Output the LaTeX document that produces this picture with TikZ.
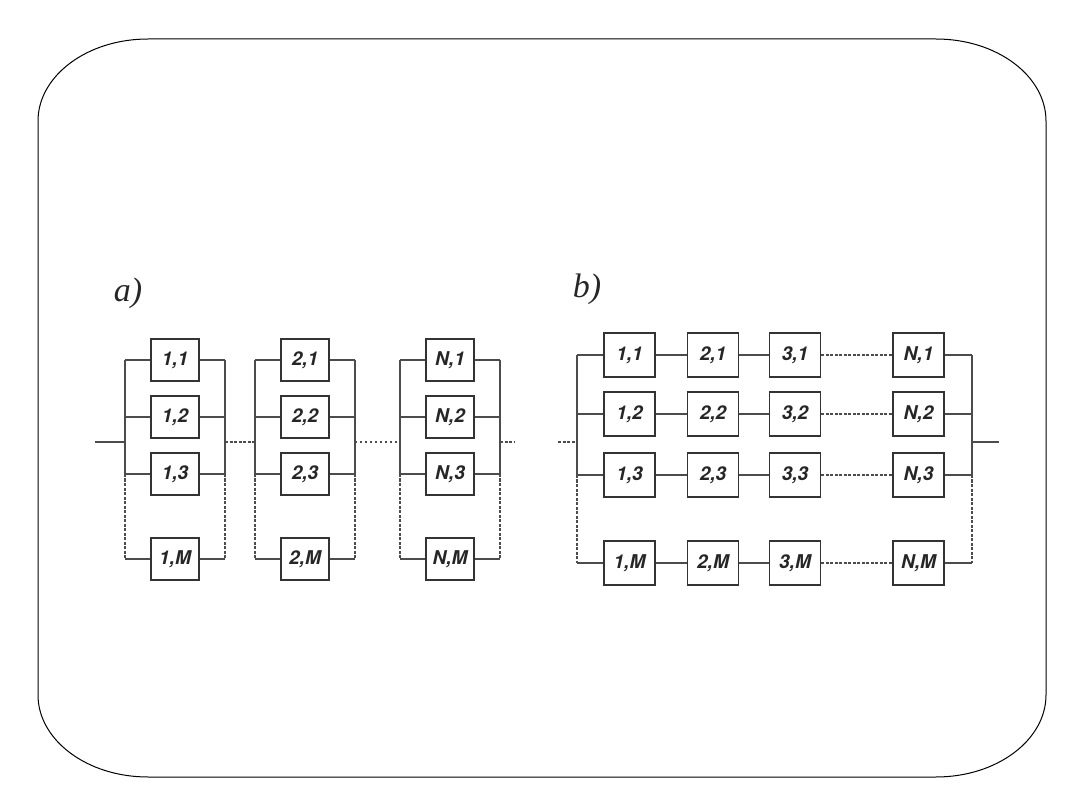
\documentclass[tikz,border=0pt]{standalone}
\usepackage{fontspec}
\setmainfont{Liberation Serif}
\setsansfont{TeX Gyre Heros}
\begin{document}
\begin{tikzpicture}[x=1pt,y=-1pt,
  boxa/.style={draw=black!80,line width=1.5pt,minimum width=48pt,minimum height=42pt,inner sep=0pt,text=black!85,font=\sffamily\bfseries\itshape\fontsize{19}{21}\selectfont},
  boxb/.style={boxa,minimum width=51pt,minimum height=44pt},
  wire/.style={draw=black!70,line width=1.1pt},
  dwire/.style={wire,dash pattern=on 3pt off 1.5pt},
  lbl/.style={text=black!85,font=\itshape\fontsize{34}{36}\selectfont}]
\useasboundingbox (0,0) rectangle (1080,810);
% frame
\draw[line width=1pt] (38,121) .. controls (38,76) and (87,39) .. (148,39)
  -- (936,39) .. controls (997,39) and (1046,76) .. (1046,121)
  -- (1046,695) .. controls (1046,740) and (997,777) .. (936,777)
  -- (148,777) .. controls (87,777) and (38,740) .. (38,695) -- cycle;
% ---------- a ----------
\node[lbl] (la) at (128,293) {a)};
\foreach \c/\x/\lab in {1/175/1,2/305/2,3/450/N}{
  \foreach \r/\y/\rl in {1/360/1,2/417/2,3/474/3,4/559/M}{
    \node[boxa] (a\c\r) at (\x,\y) {\lab,\rl};
    \coordinate (aL\c\r) at (\x-50,\y);
    \coordinate (aR\c\r) at (\x+50,\y);
    \draw[wire] (aL\c\r) -- (a\c\r.west);
    \draw[wire] (a\c\r.east) -- (aR\c\r);
  }
  \coordinate (aLm\c) at (\x-50,442);
  \coordinate (aRm\c) at (\x+50,442);
  \draw[wire] (aL\c1) -- (aL\c3);
  \draw[wire] (aR\c1) -- (aR\c3);
  \draw[dwire] (aL\c3) -- (aL\c4);
  \draw[dwire] (aR\c3) -- (aR\c4);
}
\coordinate (ain) at (95,442);
\coordinate (aout) at (514,442);
\draw[wire] (ain) -- (aLm1);
\draw[dwire] (aRm1) -- (aLm2);
\draw[wire,dash pattern=on 2pt off 3pt] (aRm2) -- (aLm3);
\draw[dwire] (aRm3) -- (aout);
% ---------- b ----------
\node[lbl] (lb) at (587,289) {b)};
\foreach \c/\x/\lab in {1/629.5/1,2/713/2,3/795/3,4/918.5/N}{
  \foreach \r/\y/\rl in {1/355/1,2/414/2,3/475/3,4/563/M}{
    \node[boxb] (b\c\r) at (\x,\y) {\lab,\rl};
  }
}
\foreach \r/\y in {1/355,2/414,3/475,4/563}{
  \coordinate (bL\r) at (577,\y);
  \coordinate (bR\r) at (972,\y);
  \draw[wire] (bL\r) -- (b1\r.west);
  \draw[wire] (b1\r.east) -- (b2\r.west);
  \draw[wire] (b2\r.east) -- (b3\r.west);
  \draw[dwire] (b3\r.east) -- (b4\r.west);
  \draw[wire] (b4\r.east) -- (bR\r);
}
\draw[wire] (bL1) -- (bL3);
\draw[wire] (bR1) -- (bR3);
\draw[dwire] (bL3) -- (bL4);
\draw[dwire] (bR3) -- (bR4);
\coordinate (bin) at (558,442);
\coordinate (bLm) at (577,442);
\coordinate (bRm) at (972,442);
\coordinate (bout) at (999,442);
\draw[dwire] (bin) -- (bLm);
\draw[wire] (bRm) -- (bout);
\end{tikzpicture}
\end{document}
